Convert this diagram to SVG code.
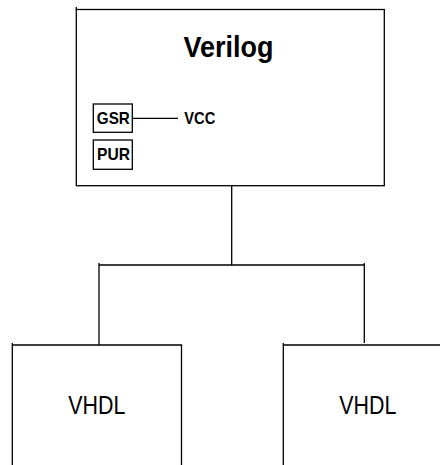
<svg xmlns="http://www.w3.org/2000/svg" width="440" height="465" viewBox="0 0 440 465">
<style>
.box{fill:#fff;stroke:#000;stroke-width:1.3}
.ln{fill:none;stroke:#000;stroke-width:1.3}
.b{font-family:"Liberation Sans",Arial,sans-serif;font-weight:bold;fill:#000}
.r{font-family:"Liberation Sans",Arial,sans-serif;fill:#000}
</style>
<rect width="440" height="465" fill="#fff"/>
<g id="verilog">
<rect class="box" x="76.3" y="9.5" width="308" height="176.2"/>
<line class="ln" x1="76.3" y1="7" x2="76.3" y2="10"/>
<text class="b" x="228.5" y="57" font-size="30" text-anchor="middle" textLength="90" lengthAdjust="spacingAndGlyphs">Verilog</text>
</g>
<g id="gsr">
<rect class="box" x="93.3" y="104" width="39" height="28.3"/>
<text class="b" x="113.3" y="124" font-size="17" text-anchor="middle" textLength="33" lengthAdjust="spacingAndGlyphs">GSR</text>
</g>
<g id="vcc">
<text class="b" x="184.3" y="124" font-size="17" textLength="31" lengthAdjust="spacingAndGlyphs">VCC</text>
</g>
<g id="pur">
<rect class="box" x="93.3" y="140" width="39" height="29.3"/>
<text class="b" x="113.5" y="159.5" font-size="17" text-anchor="middle" textLength="33" lengthAdjust="spacingAndGlyphs">PUR</text>
</g>
<g id="vhdl1">
<path class="ln" d="M12.3 343V466M12.3 345H181.5V466"/>
<text class="r" x="96.8" y="414" font-size="26" text-anchor="middle" textLength="57" lengthAdjust="spacingAndGlyphs">VHDL</text>
</g>
<g id="vhdl2">
<path class="ln" d="M283.3 343V466M283.3 345H441"/>
<text class="r" x="367.8" y="414" font-size="26" text-anchor="middle" textLength="57" lengthAdjust="spacingAndGlyphs">VHDL</text>
</g>
<g id="connectors">
<path class="ln" d="M231.7 185.7V265M99 265H364.3M99 263V345M364.3 263V343"/>
<path class="ln" d="M132.3 118.3H178"/>
</g>
</svg>
